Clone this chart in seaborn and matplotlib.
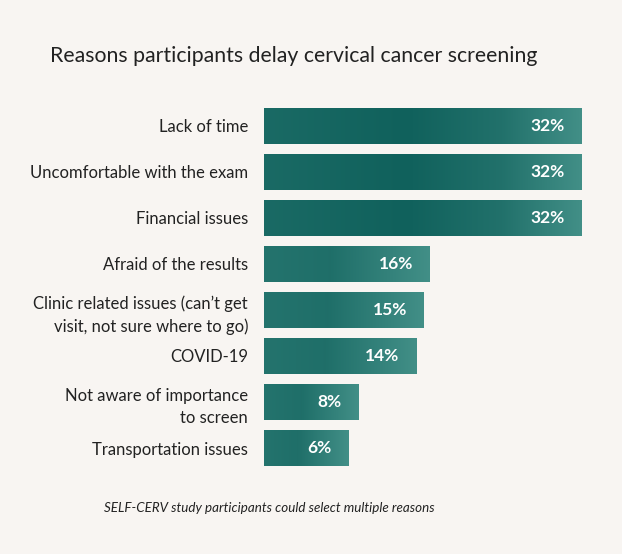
import numpy as np
import pandas as pd
import matplotlib
matplotlib.use("Agg")
import matplotlib.pyplot as plt
import seaborn as sns
from matplotlib.colors import LinearSegmentedColormap

categories = [
    "Lack of time",
    "Uncomfortable with the exam",
    "Financial issues",
    "Afraid of the results",
    "Clinic related issues (can\u2019t get\nvisit, not sure where to go)",
    "COVID-19",
    "Not aware of importance\nto screen",
    "Transportation issues",
]
# bar lengths as drawn in the picture (percent scale)
bar_values = [32, 32, 32, 16.7, 16.1, 15.3, 9.5, 8.5]
value_labels = ["32%", "32%", "32%", "16%", "15%", "14%", "8%", "6%"]

title = "Reasons participants delay cervical cancer screening"
note = "SELF-CERV study participants could select multiple reasons"

BG = "#f8f5f2"
TXT = "#222222"

sns.set_theme(style="white")
plt.rcParams["font.family"] = ["Lato", "DejaVu Sans"]

df = pd.DataFrame({"reason": categories, "value": bar_values})

fig = plt.figure(figsize=(6.22, 5.54), dpi=100, facecolor=BG)
ax = fig.add_axes([264 / 622, 1 - 471 / 554, 318 / 622, 368 / 554])
ax.set_facecolor(BG)

sns.barplot(data=df, y="reason", x="value", orient="h", color="#176862",
            width=36 / 46, ax=ax, saturation=1)

dark = np.array([0x10, 0x61, 0x5c]) / 255
light = np.array([0x42, 0x8f, 0x87]) / 255

# gradient fill clipped to each bar
for i, p in enumerate(ax.patches):
    x0, y0 = p.get_x(), p.get_y()
    w, h = p.get_width(), p.get_height()
    frac = w / 32
    if frac > 0.6:
        stops = [(0, dark * 0.8 + light * 0.2), (0.45, dark),
                 (0.75, dark * 0.65 + light * 0.35), (1.0, light)]
    else:
        stops = [(0, dark * 0.6 + light * 0.4), (0.4, dark * 0.7 + light * 0.3),
                 (1.0, light)]
    cmap = LinearSegmentedColormap.from_list(f"g{i}", stops)
    grad = np.linspace(0, 1, 256).reshape(1, -1)
    im = ax.imshow(grad, cmap=cmap, aspect="auto",
                   extent=[x0, x0 + w, y0 + h, y0], zorder=p.get_zorder() + 0.1,
                   interpolation="bilinear")
    im.set_clip_path(p)
    p.set_edgecolor("none")

ax.set_xlim(0, 32)
ax.set_ylim(7.5, -0.5)

# value labels
for i, (v, lab) in enumerate(zip(bar_values, value_labels)):
    ax.annotate(lab, xy=(v, i), xytext=(-17, 0), textcoords="offset pixels",
                ha="right", va="center", color="white", fontsize=12.5,
                fontweight="bold", zorder=5)

ax.set_xlabel("")
ax.set_ylabel("")
ax.set_xticks([])
ax.tick_params(axis="y", length=0, pad=11.5, labelsize=12, labelcolor=TXT)
for lab in ax.get_yticklabels():
    lab.set_horizontalalignment("right")
    lab.set_linespacing(1.5)
for s in ax.spines.values():
    s.set_visible(False)

fig.text(50 / 622, 1 - 56 / 554, title, fontsize=15.3, color=TXT,
         ha="left", va="center")
fig.text(104 / 622, 1 - 508 / 554, note, fontsize=9.6, color=TXT,
         ha="left", va="center", style="italic")

fig.savefig("out.png", dpi=100, facecolor=BG)
